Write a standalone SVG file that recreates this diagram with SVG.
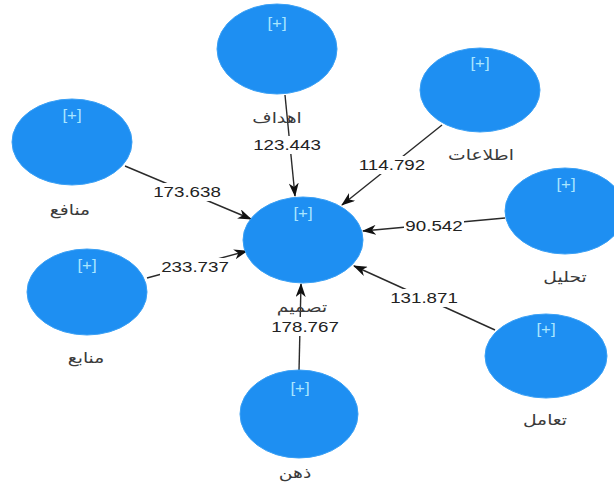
<svg xmlns="http://www.w3.org/2000/svg" width="614" height="491" viewBox="0 0 614 491">
<defs>
<style>
.node{fill:#1e8ff2;stroke:#3aa0f5;stroke-width:1}
.plus{font-family:"Liberation Sans","DejaVu Sans",sans-serif;font-size:14px;fill:#a9e6ff;text-anchor:middle}
.lbl{font-family:"DejaVu Sans",sans-serif;font-size:15px;fill:#3a3a3a;text-anchor:middle}
.num{font-family:"Liberation Sans","DejaVu Sans",sans-serif;font-size:15px;fill:#222;text-anchor:middle}
.edge{stroke:#2a2a2a;stroke-width:1.4;fill:none;marker-end:url(#arr)}
.bg{fill:#fff}
</style>
<marker id="arr" viewBox="0 0 14 10" refX="13" refY="5" markerWidth="14" markerHeight="10" markerUnits="userSpaceOnUse" orient="auto">
<path d="M0,0 L14,5 L0,10 L4,5 z" fill="#111"/>
</marker>
</defs>
<rect width="614" height="491" fill="#fff"/>
<g id="connectors">
<line class="edge" x1="285" y1="95" x2="295" y2="196"/>
<line class="edge" x1="442" y1="125" x2="342" y2="205"/>
<line class="edge" x1="125" y1="166" x2="251" y2="219"/>
<line class="edge" x1="147" y1="278" x2="247" y2="251"/>
<line class="edge" x1="505" y1="218" x2="363" y2="231"/>
<line class="edge" x1="495" y1="330" x2="354" y2="266"/>
<line class="edge" x1="299" y1="371" x2="301" y2="284"/>
<rect class="bg" x="252" y="136" width="70" height="18"/>
<rect class="bg" x="357" y="156" width="70" height="18"/>
<rect class="bg" x="152" y="183" width="70" height="18"/>
<rect class="bg" x="160" y="258" width="70" height="18"/>
<rect class="bg" x="404" y="217" width="60" height="18"/>
<rect class="bg" x="389" y="289" width="70" height="18"/>
<rect class="bg" x="268" y="317" width="74" height="19"/>
<text class="num" transform="translate(287,150) scale(1.25,1)">123.443</text>
<text class="num" transform="translate(392,170) scale(1.25,1)">114.792</text>
<text class="num" transform="translate(187,197) scale(1.25,1)">173.638</text>
<text class="num" transform="translate(195,272) scale(1.25,1)">233.737</text>
<text class="num" transform="translate(434,231) scale(1.25,1)">90.542</text>
<text class="num" transform="translate(424,303) scale(1.25,1)">131.871</text>
<text class="num" transform="translate(305,332) scale(1.25,1)">178.767</text>
</g>
<g id="n-tasmim">
<ellipse class="node" cx="303" cy="240" rx="60" ry="43"/>
<text class="plus" transform="translate(303,218) scale(1.2,1)">[+]</text>
<text class="lbl" transform="translate(302,312) scale(1.25,1)">تصميم</text>
</g>
<g id="n-ahdaf">
<ellipse class="node" cx="277" cy="49" rx="60" ry="45"/>
<text class="plus" transform="translate(277,28) scale(1.2,1)">[+]</text>
<text class="lbl" transform="translate(277,123) scale(1.25,1)">اهداف</text>
</g>
<g id="n-ettelaat">
<ellipse class="node" cx="480" cy="90" rx="60" ry="42"/>
<text class="plus" transform="translate(480,68) scale(1.2,1)">[+]</text>
<text class="lbl" transform="translate(481,160) scale(1.25,1)">اطلاعات</text>
</g>
<g id="n-manafe">
<ellipse class="node" cx="72" cy="142" rx="60" ry="43"/>
<text class="plus" transform="translate(72,120) scale(1.2,1)">[+]</text>
<text class="lbl" transform="translate(70,215) scale(1.25,1)">منافع</text>
</g>
<g id="n-manabe">
<ellipse class="node" cx="87" cy="292" rx="60" ry="43"/>
<text class="plus" transform="translate(87,270) scale(1.2,1)">[+]</text>
<text class="lbl" transform="translate(86,363) scale(1.25,1)">منابع</text>
</g>
<g id="n-tahlil">
<ellipse class="node" cx="565" cy="211" rx="60" ry="43"/>
<text class="plus" transform="translate(566,189) scale(1.2,1)">[+]</text>
<text class="lbl" transform="translate(565,282) scale(1.25,1)">تحليل</text>
</g>
<g id="n-taamol">
<ellipse class="node" cx="546" cy="356" rx="61" ry="42"/>
<text class="plus" transform="translate(546,334) scale(1.2,1)">[+]</text>
<text class="lbl" transform="translate(545,425) scale(1.25,1)">تعامل</text>
</g>
<g id="n-zehn">
<ellipse class="node" cx="299" cy="414" rx="59" ry="44"/>
<text class="plus" transform="translate(300,393) scale(1.2,1)">[+]</text>
<text class="lbl" transform="translate(295,478) scale(1.25,1)">ذهن</text>
</g>
</svg>
